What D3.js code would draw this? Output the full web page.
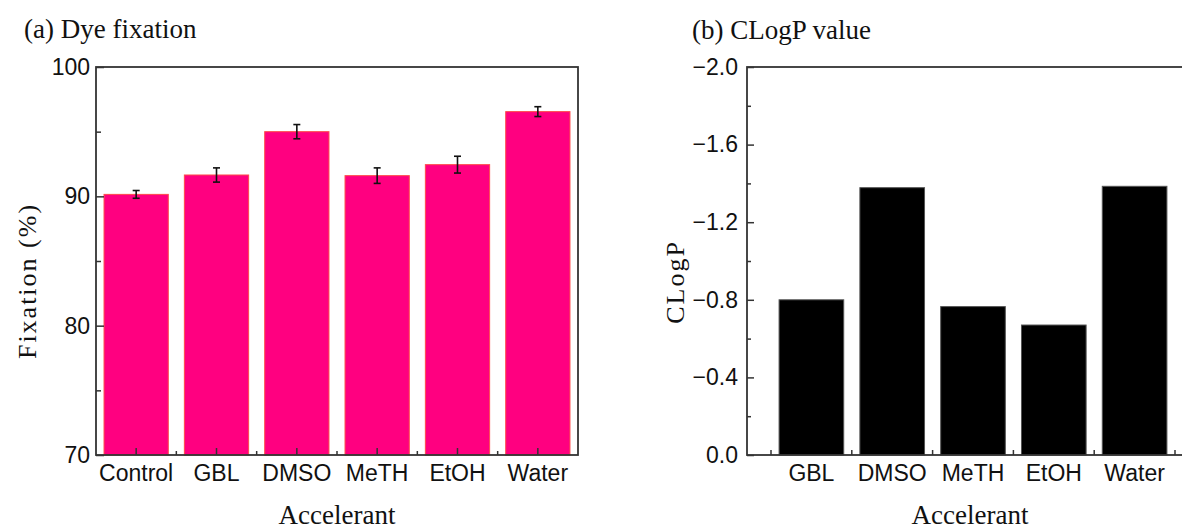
<!DOCTYPE html>
<html>
<head>
<meta charset="utf-8">
<script src="https://cdn.jsdelivr.net/npm/d3@7"></script>
<style>
  html, body { margin: 0; padding: 0; background: #fff; }
  svg { display: block; }
</style>
</head>
<body>
<svg id="chart" width="1182" height="530"></svg>
<script>
// ---- Data ----
const fixCategories = ["Control", "GBL", "DMSO", "MeTH", "EtOH", "Water"];
const fixValues = [90.15, 91.65, 95.0, 91.6, 92.45, 96.55];
const fixErrors = [0.3, 0.55, 0.55, 0.6, 0.65, 0.38];
const fixTicks = [70, 80, 90, 100];
const fixMinorTicks = [75, 85, 95];

const clogCategories = ["GBL", "DMSO", "MeTH", "EtOH", "Water"];
const clogValues = [-0.80, -1.378, -0.765, -0.67, -1.385];
const clogTicks = [0, -0.4, -0.8, -1.2, -1.6, -2.0];
const clogMinorTicks = [-0.2, -0.6, -1.0, -1.4, -1.8];

const svg = d3.select("#chart");
const serif = "'Liberation Serif', 'Times New Roman', serif";
const sans = "'Liberation Sans', Arial, sans-serif";
const frameColor = "#333";

function styleAxis(g) {
  g.select(".domain").remove();
  g.selectAll(".tick line").attr("stroke", frameColor).attr("stroke-width", 1.5);
  g.selectAll(".tick text").attr("font-family", sans).attr("font-size", 23).attr("fill", "#111");
}

// ================= Panel (a) =================
{
  const L = 96, R = 578, T = 67, B = 455;
  const x = d3.scaleBand().domain(fixCategories).range([L, R]).paddingInner(0.2).paddingOuter(0.1);
  const y = d3.scaleLinear().domain([70, 100]).range([B, T]);

  svg.append("g").selectAll("rect").data(fixCategories).join("rect")
    .attr("x", d => x(d)).attr("width", x.bandwidth())
    .attr("y", (d, i) => y(fixValues[i]))
    .attr("height", (d, i) => y(70) - y(fixValues[i]))
    .attr("fill", "#FF0080").attr("stroke", "#FF4A4A").attr("stroke-width", 1);

  const eb = svg.append("g").attr("stroke", "#111").attr("stroke-width", 1.6);
  fixCategories.forEach((c, i) => {
    const cx = x(c) + x.bandwidth() / 2;
    const y1 = y(fixValues[i] + fixErrors[i]), y2 = y(fixValues[i] - fixErrors[i]);
    eb.append("line").attr("x1", cx).attr("x2", cx).attr("y1", y1).attr("y2", y2);
    eb.append("line").attr("x1", cx - 3.5).attr("x2", cx + 3.5).attr("y1", y1).attr("y2", y1);
    eb.append("line").attr("x1", cx - 3.5).attr("x2", cx + 3.5).attr("y1", y2).attr("y2", y2);
  });

  svg.append("g").attr("transform", `translate(${L},0)`)
    .call(d3.axisLeft(y).tickValues(fixTicks).tickSizeInner(-8).tickSizeOuter(0).tickPadding(6).tickFormat(d3.format("d")))
    .call(styleAxis);
  svg.append("g").attr("transform", `translate(${L},0)`)
    .call(d3.axisLeft(y).tickValues(fixMinorTicks).tickSizeInner(-5).tickSizeOuter(0).tickFormat(""))
    .call(styleAxis);

  svg.append("g").attr("transform", `translate(0,${B})`)
    .call(d3.axisBottom(x).tickSizeInner(-7).tickSizeOuter(0).tickPadding(10))
    .call(styleAxis);
  const gap = (x.step() - x.bandwidth()) / 2;
  const bounds = fixCategories.slice(1).map(c => x(c) - gap);
  svg.append("g").selectAll("line").data(bounds).join("line")
    .attr("x1", d => d).attr("x2", d => d).attr("y1", B).attr("y2", B - 4)
    .attr("stroke", frameColor).attr("stroke-width", 1.5);

  svg.append("rect").attr("x", L).attr("y", T).attr("width", R - L).attr("height", B - T)
    .attr("fill", "none").attr("stroke", frameColor).attr("stroke-width", 1.8);

  svg.append("text").attr("x", 24).attr("y", 38).attr("font-family", serif).attr("font-size", 27)
    .attr("fill", "#111").text("(a) Dye fixation");
  svg.append("text").attr("transform", `translate(36,281) rotate(-90)`).attr("text-anchor", "middle")
    .attr("font-family", serif).attr("font-size", 26).attr("letter-spacing", 2).attr("fill", "#111")
    .text("Fixation (%)");
  svg.append("text").attr("x", 337).attr("y", 524).attr("text-anchor", "middle")
    .attr("font-family", serif).attr("font-size", 27).attr("fill", "#111").text("Accelerant");
}

// ================= Panel (b) =================
{
  const L = 747, R = 1200, T = 67, B = 455;
  const x = d3.scaleBand().domain(clogCategories).range([771, 1175]).paddingInner(0.2).paddingOuter(0.1);
  const y = d3.scaleLinear().domain([0, -2.0]).range([B, T]);

  svg.append("g").selectAll("rect").data(clogCategories).join("rect")
    .attr("x", d => x(d)).attr("width", x.bandwidth())
    .attr("y", (d, i) => y(clogValues[i]))
    .attr("height", (d, i) => y(0) - y(clogValues[i]))
    .attr("fill", "#000").attr("stroke", "#555").attr("stroke-width", 1);

  svg.append("g").attr("transform", `translate(${L},0)`)
    .call(d3.axisLeft(y).tickValues(clogTicks).tickSizeInner(-7).tickSizeOuter(0).tickPadding(9).tickFormat(d3.format(".1f")))
    .call(styleAxis);
  svg.append("g").attr("transform", `translate(${L},0)`)
    .call(d3.axisLeft(y).tickValues(clogMinorTicks).tickSizeInner(-4).tickSizeOuter(0).tickFormat(""))
    .call(styleAxis);

  svg.append("g").attr("transform", `translate(0,${B})`)
    .call(d3.axisBottom(x).tickSizeInner(0).tickSizeOuter(0).tickPadding(10))
    .call(styleAxis);
  const gap = (x.step() - x.bandwidth()) / 2;
  const bounds = clogCategories.map(c => x(c) - gap).concat([x(clogCategories[clogCategories.length - 1]) + x.bandwidth() + gap]);
  svg.append("g").selectAll("line").data(bounds).join("line")
    .attr("x1", d => d).attr("x2", d => d).attr("y1", B).attr("y2", B - 5)
    .attr("stroke", frameColor).attr("stroke-width", 1.5);

  svg.append("rect").attr("x", L).attr("y", T).attr("width", R - L).attr("height", B - T)
    .attr("fill", "none").attr("stroke", frameColor).attr("stroke-width", 1.8);

  svg.append("text").attr("x", 692).attr("y", 39).attr("font-family", serif).attr("font-size", 27)
    .attr("fill", "#111").text("(b) CLogP value");
  svg.append("text").attr("transform", `translate(684,282) rotate(-90)`).attr("text-anchor", "middle")
    .attr("font-family", serif).attr("font-size", 26).attr("letter-spacing", 2).attr("fill", "#111")
    .text("CLogP");
  svg.append("text").attr("x", 970).attr("y", 524).attr("text-anchor", "middle")
    .attr("font-family", serif).attr("font-size", 27).attr("fill", "#111").text("Accelerant");
}
</script>
</body>
</html>
